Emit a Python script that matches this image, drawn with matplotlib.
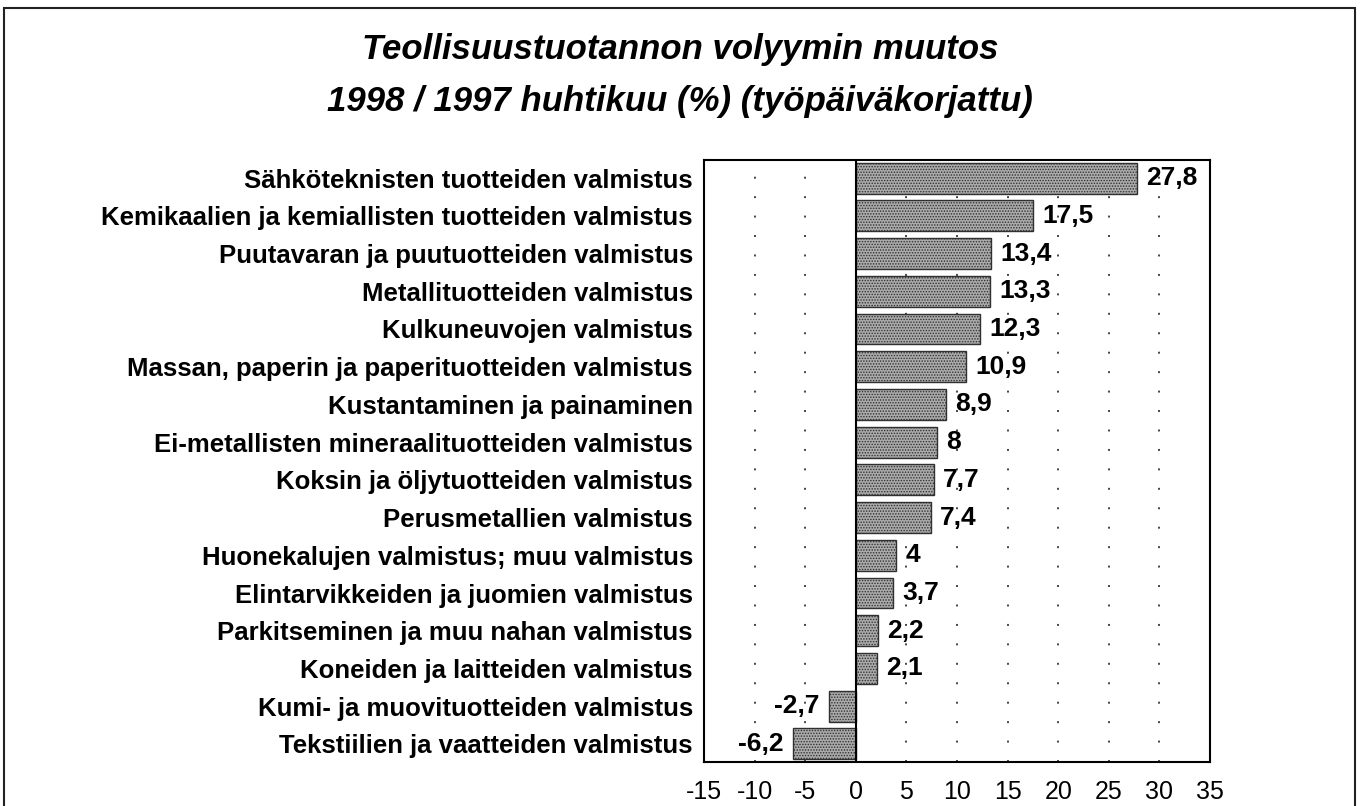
import matplotlib.pyplot as plt
from matplotlib.patches import Rectangle

categories = [
    "Sähköteknisten tuotteiden valmistus",
    "Kemikaalien ja kemiallisten tuotteiden valmistus",
    "Puutavaran ja puutuotteiden valmistus",
    "Metallituotteiden valmistus",
    "Kulkuneuvojen valmistus",
    "Massan, paperin ja paperituotteiden valmistus",
    "Kustantaminen ja painaminen",
    "Ei-metallisten mineraalituotteiden valmistus",
    "Koksin ja öljytuotteiden valmistus",
    "Perusmetallien valmistus",
    "Huonekalujen valmistus; muu valmistus",
    "Elintarvikkeiden ja juomien valmistus",
    "Parkitseminen ja muu nahan valmistus",
    "Koneiden ja laitteiden valmistus",
    "Kumi- ja muovituotteiden valmistus",
    "Tekstiilien ja vaatteiden valmistus",
]
values = [27.8, 17.5, 13.4, 13.3, 12.3, 10.9, 8.9, 8, 7.7, 7.4, 4, 3.7, 2.2, 2.1, -2.7, -6.2]
xticks = [-15, -10, -5, 0, 5, 10, 15, 20, 25, 30, 35]

plt.rcParams['font.family'] = ['Liberation Sans', 'DejaVu Sans']
plt.rcParams['hatch.linewidth'] = 0.7
plt.rcParams['hatch.color'] = '#404040'

fig = plt.figure(figsize=(13.66, 8.06), dpi=100)
ax = fig.add_axes([0.5154, 0.0546, 0.3704, 0.7469])

n = len(categories)
ypos = list(range(n - 1, -1, -1))

# dotted grid lines
for t in xticks[1:-1]:
    if t != 0:
        ax.axvline(t, color='#444444', lw=1.4, linestyle=(0, (1, 9)), zorder=0)
ax.axvline(0, color='black', lw=1.5, zorder=3)

ax.barh(ypos, values, height=0.82, color='#ababab', edgecolor='#303030',
        hatch='......', linewidth=1.0, zorder=2)

for y, v in zip(ypos, values):
    txt = ('%g' % v).replace('.', ',')
    if v >= 0:
        ax.text(v + 0.9, y, txt, ha='left', va='center', fontsize=19, fontweight='bold')
    else:
        ax.text(v - 0.9, y, txt, ha='right', va='center', fontsize=19, fontweight='bold')

ax.set_xlim(-15, 35)
ax.set_ylim(-0.48, n - 0.52)
ax.set_xticks(xticks)
ax.set_xticklabels([str(t) for t in xticks], fontsize=18)
ax.set_yticks(ypos)
ax.set_yticklabels(categories, fontsize=18.5, fontweight='bold')
ax.tick_params(axis='both', length=0)
ax.tick_params(axis='x', pad=13)
ax.tick_params(axis='y', pad=8)
for s in ax.spines.values():
    s.set_linewidth(1.5)

fig.text(0.498, 0.938, "Teollisuustuotannon volyymin muutos", ha='center', va='center',
         fontsize=25, fontweight='bold', style='italic')
fig.text(0.498, 0.874, "1998 / 1997 huhtikuu (%) (työpäiväkorjattu)", ha='center', va='center',
         fontsize=25, fontweight='bold', style='italic')

fig.patches.append(Rectangle((4 / 1366, -0.02), (1355 - 4) / 1366, 1.02 - 8 / 806,
                             transform=fig.transFigure, fill=False, edgecolor='#222222', lw=1.5))

fig.savefig('out.png', dpi=100)
